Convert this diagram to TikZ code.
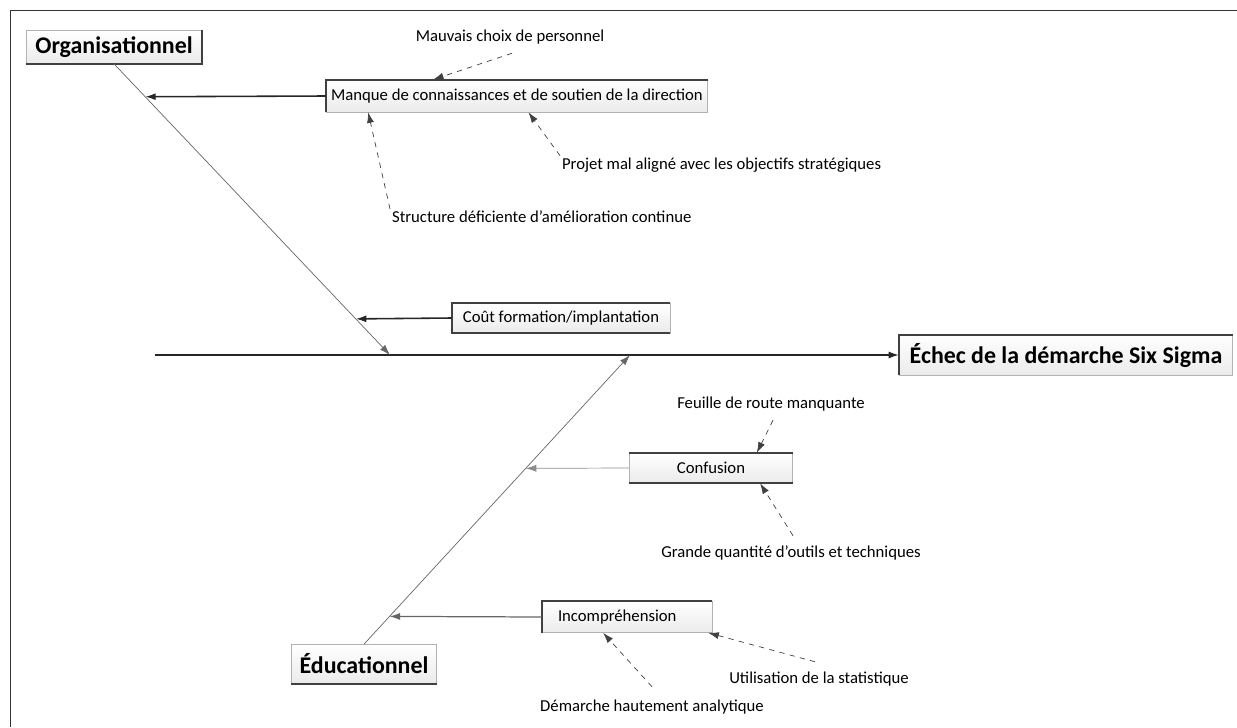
\documentclass[tikz,border=0pt]{standalone}
\usepackage{fontspec}
\setmainfont{Carlito}
\usetikzlibrary{arrows.meta,calc,positioning}
\definecolor{bonegray}{rgb}{0.4,0.4,0.4}

\begin{document}
\begin{tikzpicture}[x=0.02cm,y=-0.02cm,
    box/.style={draw=black!30,thin,top color=white,bottom color=black!8,inner sep=0pt,font=\fontsize{9.5}{11}\selectfont},
    headbox/.style={box,font=\fontsize{13.6}{15}\selectfont\bfseries},
    edge/.style={black!75,line width=1.1pt},
    spine/.style={black!85,line width=1pt,-{Latex[length=6pt,width=4pt]}},
    bone/.style={bonegray,thin,-{Latex[length=6pt,width=4pt]}},
    branch/.style={black!85,line width=0.9pt,-{Latex[length=6pt,width=4pt]}},
    sub/.style={black!75,dashed,thin,-{Latex[length=6pt,width=4pt]}},
    subtext/.style={font=\fontsize{9.5}{11}\selectfont,inner sep=1pt}]
                \useasboundingbox (0,0) rectangle (1237,727);
                %Frame
                \draw[black!80] (10,727) -- (10,10) -- (1237,10);
                %Boxes
                \node[headbox,minimum width=3.5cm,minimum height=0.66cm] (org) at (114,47) {Organisationnel};
                \node[box,minimum width=7.62cm,minimum height=0.64cm] (manque) at (517,96) {Manque de connaissances et de soutien de la direction};
                \node[box,minimum width=4.36cm,minimum height=0.6cm] (cout) at (561,318) {Coût formation/implantation};
                \node[headbox,minimum width=6.66cm,minimum height=0.8cm] (effect) at (1066,355) {Échec de la démarche Six Sigma};
                \node[box,minimum width=3.26cm,minimum height=0.6cm] (confusion) at (711,468) {Confusion};
                \node[box,minimum width=3.4cm,minimum height=0.62cm,text width=2.76cm,align=left] (incomp) at (627,617) {Incompréhension};
                \node[headbox,minimum width=2.9cm,minimum height=0.78cm] (educ) at (364,664) {Éducationnel};
                %Dark edges
                \draw[edge] (org.north east) -- (org.south east) -- (org.south west);
                \draw[edge] (manque.south west) -- (manque.north west) -- (manque.north east);
                \draw[edge] (cout.north east) -- (cout.north west) -- (cout.south west) -- (cout.south east);
                \draw[edge] (effect.south west) -- (effect.north west) -- (effect.north east);
                \draw[edge] (confusion.north west) -- (confusion.north east);
                \draw[edge] (confusion.south west) -- (confusion.south east);
                \draw[edge] (incomp.south west) -- (incomp.north west) -- (incomp.north east);
                \draw[edge] (educ.south west) -- (educ.south east);
                %Spine and bones
                \coordinate (tail) at (155,355);
                \coordinate (oend) at (390,355);
                \coordinate (eend) at (630,355);
                \draw[spine] (tail) -- (effect.west);
                \draw[bone] (org.south) -- (oend);
                \draw[bone] (educ.north) -- (eend);
                \coordinate (om) at ($(org.south)!0.113!(oend)$);
                \coordinate (oc) at ($(org.south)!0.876!(oend)$);
                \coordinate (ec) at ($(educ.north)!0.608!(eend)$);
                \coordinate (ei) at ($(educ.north)!0.096!(eend)$);
                \draw[branch] (manque.west) -- (om);
                \draw[branch] (cout.west) -- (oc);
                \draw[branch,black!45,thin] (confusion.west) -- (ec);
                \draw[branch,black!60,line width=0.7pt] (incomp.west) -- (ei);
                %Sub causes
                \node[subtext] (choix) at (510,37) {Mauvais choix de personnel};
                \node[subtext,anchor=west] (projet) at (560,165) {Projet mal aligné avec les objectifs stratégiques};
                \node[subtext,anchor=west] (struct) at (390,217) {Structure déficiente d'amélioration continue};
                \node[subtext] (feuille) at (771,404) {Feuille de route manquante};
                \node[subtext] (grande) at (791,553) {Grande quantité d'outils et techniques};
                \node[subtext] (util) at (819,679) {Utilisation de la statistique};
                \node[subtext] (demarche) at (652,707) {Démarche hautement analytique};
                \draw[sub] ($(choix.south)+(2,7)$) -- ($(manque.north west)!0.28!(manque.north east)$);
                \draw[sub] (projet.north west) -- ($(manque.south west)!0.53!(manque.south east)$);
                \draw[sub] (struct.north west) -- ($(manque.south west)!0.11!(manque.south east)$);
                \draw[sub] ($(feuille.south)+(2,7)$) -- ($(confusion.north west)!0.78!(confusion.north east)$);
                \draw[sub] ($(grande.north)+(2,-8)$) -- ($(confusion.south west)!0.8!(confusion.south east)$);
                \draw[sub] ($(util.north)+(-4,-8)$) -- ($(incomp.south east)+(-4,0)$);
                \draw[sub] ($(demarche.north)+(0,-11)$) -- ($(incomp.south west)!0.36!(incomp.south east)$);
            \end{tikzpicture}
\end{document}
